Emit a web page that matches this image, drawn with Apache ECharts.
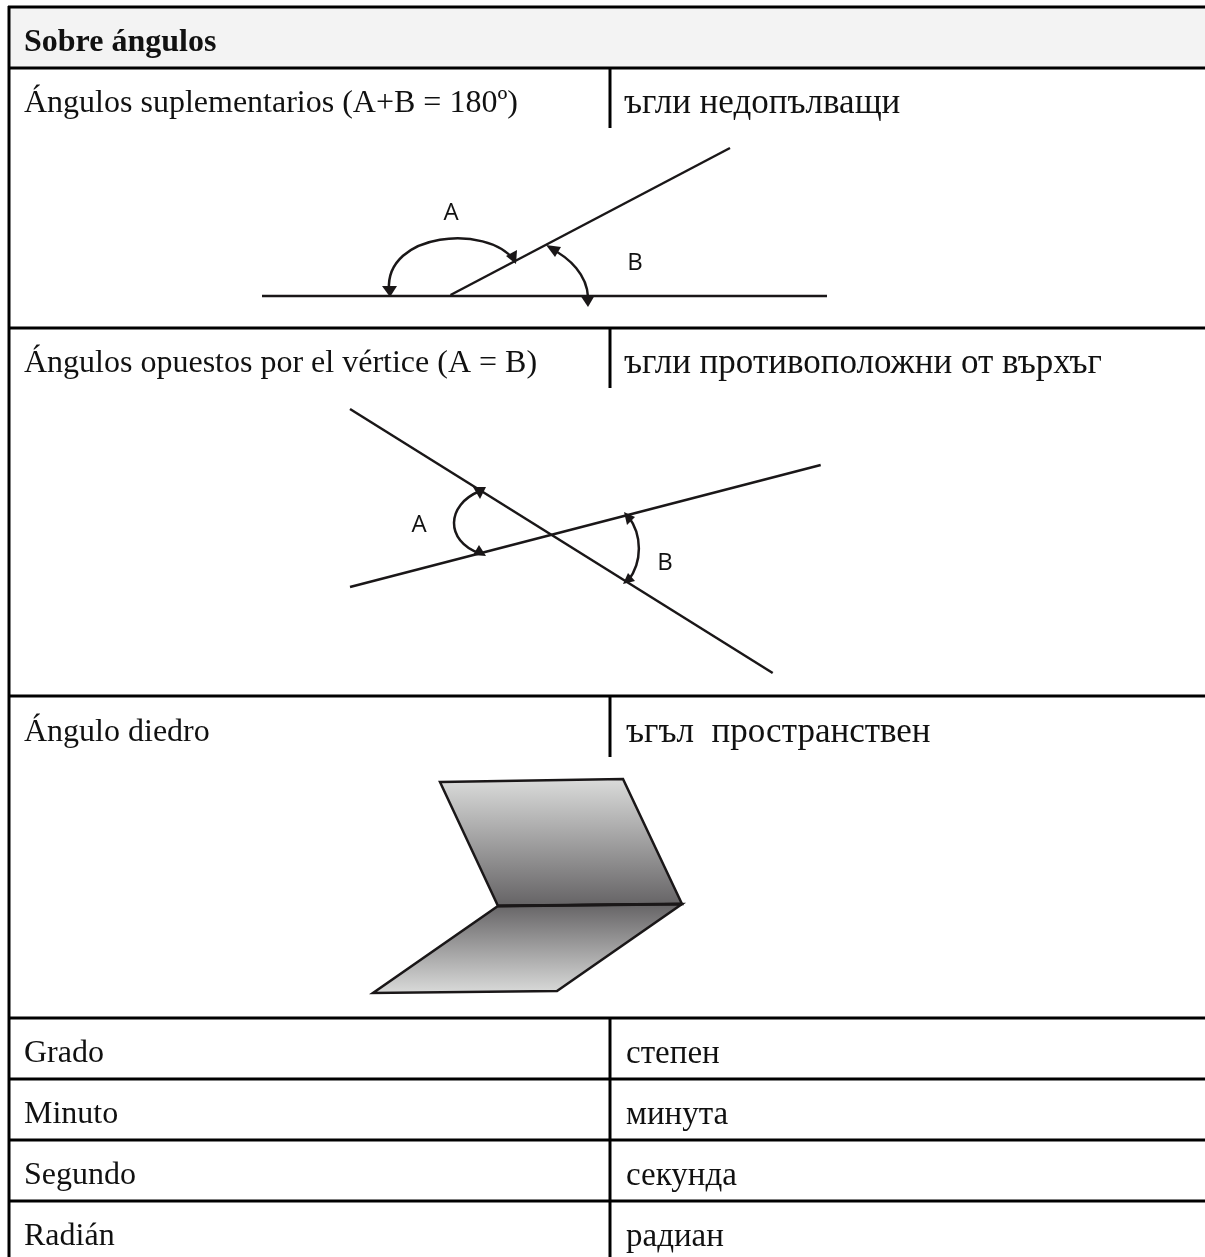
<!DOCTYPE html>
<html lang="es">
<head>
    <meta charset="UTF-8">
    <title>Sobre ángulos</title>
    <script src="https://cdn.jsdelivr.net/npm/echarts@6/dist/echarts.min.js"></script>
    <style>
        body { margin: 0; background: #fff; }
        #main { width: 1205px; height: 1257px; }
    </style>
</head>
<body>
<div id="main"></div>
<script>
    // table text: [x, y, text]
    let headerText = [[24, 43, 'Sobre ángulos']];
    let spanishTexts = [
        [24, 104, 'Ángulos suplementarios (A+B = 180º)'],
        [24, 364, 'Ángulos opuestos por el vértice (A = B)'],
        [24, 733, 'Ángulo diedro'],
        [24, 1054, 'Grado'],
        [24, 1115, 'Minuto'],
        [24, 1176, 'Segundo'],
        [24, 1237, 'Radián']
    ];
    let bulgarianTexts = [
        [626, 1054, 'степен'],
        [626, 1115, 'минута'],
        [626, 1176, 'секунда'],
        [626, 1237, 'радиан']
    ];
    let bulgarianWide = [
        [624, 104, 'ъгли недопълващи'],
        [624, 364, 'ъгли противоположни от върхъг'],
        [626, 733, 'ъгъл  пространствен']
    ];
    let angleLabels = [
        [451, 213, 'A'], [635, 263, 'B'],
        [419, 525, 'A'], [665, 563, 'B']
    ];

    // table rules
    let ruleLevels = [7, 68, 328, 696, 1018, 1079, 1140, 1201];
    let leftRule = [[9, 6], [9, 1257]];
    let columnRules = [
        [[610, 68], [610, 128]],
        [[610, 328], [610, 388]],
        [[610, 696], [610, 757]],
        [[610, 1018], [610, 1257]]
    ];
    let headerBand = [[9, 7], [1205, 7], [1205, 68], [9, 68]];

    // supplementary angles
    let suppBase = [[262, 296], [827, 296]];
    let suppRay = [[450.5, 295], [730, 148]];
    let suppArrows = [
        [[390, 297], [382, 286], [397, 286]],
        [[516, 264], [506, 256], [517, 250]],
        [[588, 307], [580, 295], [595, 295]],
        [[546, 245], [555, 257], [561, 247]]
    ];

    // vertical angles
    let oppLine1 = [[350, 409], [772.7, 673]];
    let oppLine2 = [[350, 587], [820.7, 465]];
    let oppArrows = [
        [[486, 487], [473, 487], [480, 499]],
        [[486, 556], [473, 555], [479, 545]],
        [[624, 512], [635, 517], [627, 525]],
        [[623, 584], [635, 581], [628, 573]]
    ];

    // arcs, each [start, control, control, end]
    let angleArcs = [
        [[389, 290], [385, 232], [487, 224], [514, 260]],
        [[588, 297], [587, 275], [570, 258], [550, 248]],
        [[480, 491], [445.5, 505], [445.5, 541], [479, 553]],
        [[628, 516], [642.5, 535], [642.5, 562], [628, 581]]
    ];

    // dihedral faces
    let upperFace = [[440, 782], [623, 779], [682, 904], [498, 906]];
    let lowerFace = [[498, 906], [682, 904], [557, 991], [373, 993]];
    let foldLine = [[498, 906], [682, 904]];
    let faceLight = '#dbdcdb';
    let faceDark = '#646264';

    let serif = '"Liberation Serif", "Times New Roman", serif';

    function lineSeries(points, width) {
        return {
            type: 'line',
            data: points,
            symbol: 'none',
            silent: true,
            clip: false,
            lineStyle: {color: '#1a1718', width: width}
        };
    }

    function ruleSeries(points) {
        return {
            type: 'line',
            data: points,
            symbol: 'none',
            silent: true,
            clip: false,
            lineStyle: {color: '#000', width: 3, cap: 'butt'}
        };
    }

    function arcSeries(arcs, width) {
        return {
            type: 'custom',
            silent: true,
            clip: false,
            data: arcs.map(function (a) { return a[0]; }),
            encode: {x: 0, y: 1},
            renderItem: function (params, api) {
                let a = arcs[params.dataIndex].map(function (p) { return api.coord(p); });
                return {
                    type: 'bezierCurve',
                    shape: {
                        x1: a[0][0], y1: a[0][1],
                        cpx1: a[1][0], cpy1: a[1][1],
                        cpx2: a[2][0], cpy2: a[2][1],
                        x2: a[3][0], y2: a[3][1]
                    },
                    style: {fill: null, stroke: '#1a1718', lineWidth: width}
                };
            }
        };
    }

    // text goes through a custom series so it sits on the same scales
    function textSeries(items, font) {
        return {
            type: 'custom',
            silent: true,
            clip: false,
            data: items.map(function (d) { return [d[0], d[1]]; }),
            encode: {x: 0, y: 1},
            renderItem: function (params, api) {
                let p = api.coord([api.value(0), api.value(1)]);
                return {
                    type: 'text',
                    x: p[0],
                    y: p[1],
                    style: {
                        text: items[params.dataIndex][2],
                        font: font.text,
                        fill: '#111',
                        align: font.align,
                        verticalAlign: 'middle'
                    }
                };
            }
        };
    }

    function polygonSeries(polys, fill, stroke, strokeWidth) {
        return {
            type: 'custom',
            silent: true,
            clip: false,
            data: polys.map(function (p, i) { return [p[0][0], p[0][1], i]; }),
            encode: {x: 0, y: 1},
            renderItem: function (params, api) {
                let pts = polys[params.dataIndex].map(function (p) { return api.coord(p); });
                return {
                    type: 'polygon',
                    shape: {points: pts},
                    style: {fill: fill, stroke: stroke, lineWidth: strokeWidth, lineJoin: 'miter'}
                };
            }
        };
    }

    function gradient(top, bottom) {
        return new echarts.graphic.LinearGradient(0, 0, 0, 1, [
            {offset: 0, color: top},
            {offset: 1, color: bottom}
        ]);
    }

    function buildChart() {
        let series = [];
        series.push(polygonSeries([headerBand], '#f3f3f3', null, 0));
        ruleLevels.forEach(function (y) {
            series.push(ruleSeries([[8, y], [1205, y]]));
        });
        series.push(ruleSeries(leftRule));
        columnRules.forEach(function (r) { series.push(ruleSeries(r)); });

        series.push(lineSeries(suppBase, 2.5));
        series.push(lineSeries(suppRay, 2.5));
        series.push(polygonSeries(suppArrows, '#1a1718', null, 0));

        series.push(lineSeries(oppLine1, 2.5));
        series.push(lineSeries(oppLine2, 2.5));
        series.push(polygonSeries(oppArrows, '#1a1718', null, 0));
        series.push(arcSeries(angleArcs, 2.5));

        series.push(polygonSeries([upperFace], gradient(faceLight, faceDark), '#1a1718', 2.5));
        series.push(polygonSeries([lowerFace], gradient(faceDark, faceLight), '#1a1718', 2.5));
        series.push(lineSeries(foldLine, 3));

        series.push(textSeries(headerText, {text: 'bold 32px ' + serif, align: 'left'}));
        series.push(textSeries(spanishTexts, {text: '32px ' + serif, align: 'left'}));
        series.push(textSeries(bulgarianTexts, {text: '33px ' + serif, align: 'left'}));
        series.push(textSeries(bulgarianWide, {text: '35px ' + serif, align: 'left'}));
        series.push(textSeries(angleLabels, {text: '24px "Open Sans"', align: 'center'}));

        let chart = echarts.init(document.getElementById('main'));
        chart.setOption({
            animation: false,
            backgroundColor: '#fff',
            grid: {left: 0, right: 0, top: 0, bottom: 0},
            xAxis: {type: 'value', min: 0, max: 1205, show: false},
            yAxis: {type: 'value', min: 0, max: 1257, inverse: true, show: false},
            series: series
        });
    }

    buildChart();
</script>
</body>
</html>
